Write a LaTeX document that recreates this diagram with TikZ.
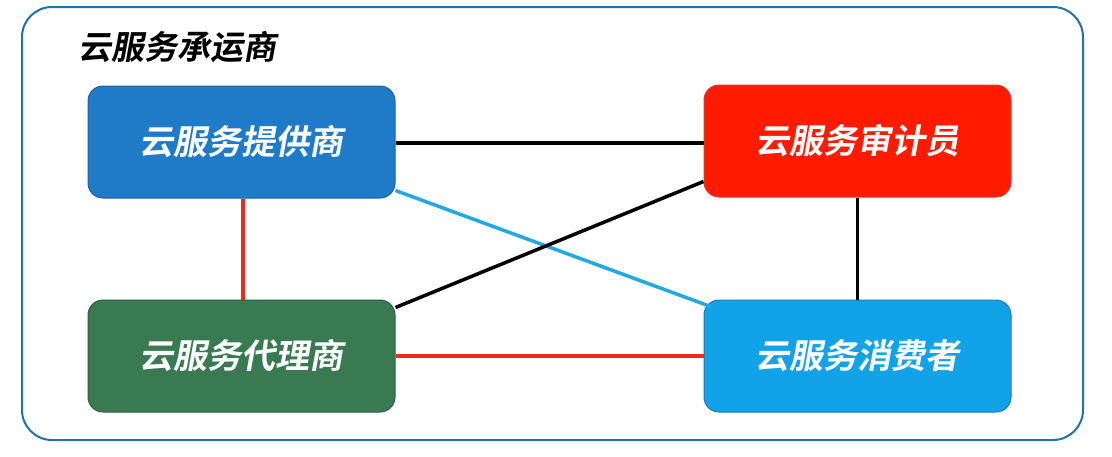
\documentclass[tikz,border=0pt]{standalone}
\usepackage{fontspec}
\newfontfamily\cjkb[FakeSlant=0.18]{Noto Sans CJK SC Bold}
\definecolor{frameblue}{HTML}{1E74A8}
\definecolor{provfill}{HTML}{1F7BC8}
\definecolor{provdraw}{HTML}{22619A}
\definecolor{audfill}{HTML}{FF1A00}
\definecolor{auddraw}{HTML}{D04030}
\definecolor{brokfill}{HTML}{3A7A52}
\definecolor{brokdraw}{HTML}{2E5F44}
\definecolor{consfill}{HTML}{12A2E8}
\definecolor{consdraw}{HTML}{1F7AB0}
\definecolor{linkred}{HTML}{F02A18}
\definecolor{linkblue}{HTML}{22A8E6}
\begin{document}
\begin{tikzpicture}[x=1pt,y=-1pt,
  role/.style={draw, line width=1pt, rounded corners=15pt, minimum width=307pt, minimum height=112pt,
    text=white, font=\cjkb\fontsize{34}{40}\selectfont, inner sep=0pt},
  link/.style={line width=3.5pt}]
\useasboundingbox (0,0) rectangle (1112,456);
\draw[frameblue, line width=2pt, rounded corners=30pt] (22,7) rectangle (1083,440);
\node[anchor=west, font=\cjkb\fontsize{33}{38}\selectfont] (title) at (75,47) {云服务承运商};
\node[role, fill=provfill, draw=provdraw] (prov) at (241.5,142) {云服务提供商};
\node[role, fill=audfill, draw=auddraw] (aud) at (857.5,141) {云服务审计员};
\node[role, fill=brokfill, draw=brokdraw] (brok) at (241.5,356) {云服务代理商};
\node[role, fill=consfill, draw=consdraw] (cons) at (857.5,356) {云服务消费者};
\draw[link, black] (prov.east |- 0,143) -- (aud.west |- 0,143);
\draw[link, linkblue] ([yshift=8pt]prov.south east) -- ([xshift=7pt,yshift=-7pt]cons.north west);
\draw[link, black] ([yshift=16pt]aud.south west) -- ([yshift=-8pt]brok.north east);
\draw[link, linkred] (prov.south -| 243,0) -- (brok.north -| 243,0);
\draw[link, linkred] (brok.east) -- (cons.west);
\draw[link, black] (aud.south) -- (cons.north);
\end{tikzpicture}
\end{document}
